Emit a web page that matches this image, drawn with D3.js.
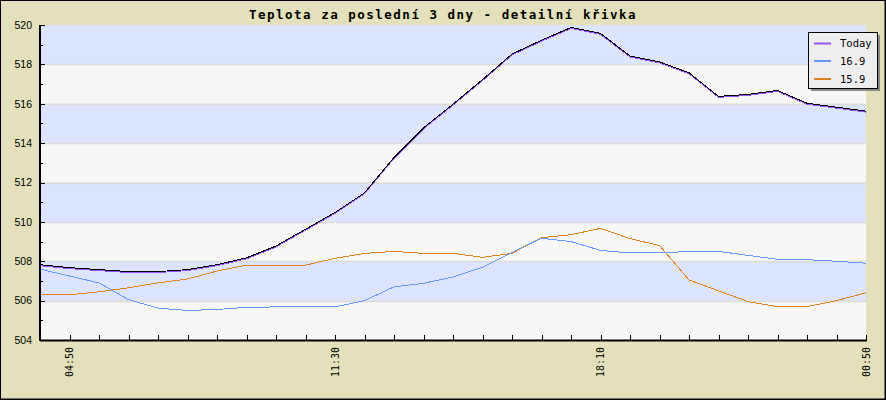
<!DOCTYPE html>
<html>
<head>
<meta charset="utf-8">
<script src="https://cdn.jsdelivr.net/npm/d3@7"></script>
<style>
  html, body { margin: 0; padding: 0; background: #fff; }
  svg { display: block; }
</style>
</head>
<body>
<svg id="chart" width="886" height="400"></svg>
<script>
// ---- data ----
const title = "Teplota za poslední 3 dny - detailní křivka";
const times = ["04:06","04:50","05:34","06:19","07:03","07:48","08:32","09:17","10:01","10:46",
               "11:30","12:14","12:59","13:43","14:28","15:12","15:57","16:41","17:26","18:10",
               "18:54","19:39","20:23","21:08","21:52","22:37","23:21","00:06","00:50"];
const labeledTimes = ["04:50","11:30","18:10","00:50"];
const seriesNames = ["Today", "16.9", "15.9"];
const today = [507.8,507.65,507.55,507.45,507.45,507.55,507.8,508.15,508.75,509.6,
               510.45,511.45,513.25,514.75,515.95,517.2,518.5,519.2,519.85,519.55,
               518.4,518.1,517.55,516.35,516.45,516.65,516.0,515.8,515.6];
const day169 = [507.6,507.25,506.9,506.05,505.62,505.5,505.55,505.66,505.68,505.68,
                505.68,506.0,506.7,506.88,507.2,507.7,508.45,509.17,509.0,508.55,
                508.42,508.42,508.5,508.5,508.3,508.1,508.08,508.0,507.9];
const day159 = [506.3,506.3,506.45,506.65,506.9,507.1,507.5,507.8,507.8,507.8,
                508.15,508.4,508.5,508.4,508.4,508.2,508.4,509.2,509.35,509.67,
                509.15,508.8,507.05,506.5,505.95,505.7,505.7,506.0,506.4];
const yTicks = [504,506,508,510,512,514,516,518,520];

// ---- layout ----
const W = 886, H = 400;
const plot = {left: 40, right: 866, top: 25, bottom: 340};
const colors = {Today: "#9955ff", "16.9": "#6699ff", "15.9": "#dd8122"};

const svg = d3.select("#chart");

// background
svg.append("rect").attr("x",0).attr("y",0).attr("width",W).attr("height",H).attr("fill","#e3e0bb");
svg.append("rect").attr("x",0.5).attr("y",0.5).attr("width",W-1.5).attr("height",H-1.5)
   .attr("fill","none").attr("stroke","#000").attr("stroke-width",1);
svg.append("line").attr("x1",0).attr("x2",W).attr("y1",H-0.5).attr("y2",H-0.5).attr("stroke","#000");
svg.append("line").attr("x1",W-0.5).attr("x2",W-0.5).attr("y1",0).attr("y2",H).attr("stroke","#000");

const x = d3.scalePoint().domain(times).range([plot.left, plot.right]);
const y = d3.scaleLinear().domain([504, 520]).range([plot.bottom, plot.top]);

// bands
const bands = d3.pairs(yTicks);
svg.append("g").selectAll("rect").data(bands).join("rect")
  .attr("x", plot.left).attr("width", plot.right - plot.left)
  .attr("y", d => y(d[1])).attr("height", d => y(d[0]) - y(d[1]))
  .attr("fill", (d,i) => i % 2 === 0 ? "#f7f7f7" : "#dde4ff");
// grid lines
svg.append("g").selectAll("line").data(yTicks.slice(1, -1)).join("line")
  .attr("x1", plot.left).attr("x2", plot.right)
  .attr("y1", d => Math.round(y(d)) + 0.5).attr("y2", d => Math.round(y(d)) + 0.5)
  .attr("stroke", "#dcdcdc").attr("stroke-width", 1.5);

// title
svg.append("text").attr("x", 443).attr("y", 18.5)
  .attr("text-anchor", "middle")
  .attr("font-family", "DejaVu Sans Mono").attr("font-weight", "bold")
  .attr("font-size", 12.5).attr("letter-spacing", 1.5)
  .attr("fill", "#000").text(title);

// lines
const line = d3.line().x((d,i) => x(times[i])).y(d => y(d));
const gLines = svg.append("g").attr("shape-rendering", "crispEdges").attr("fill","none");
gLines.append("path").datum(day159).attr("d", line).attr("stroke", colors["15.9"]).attr("stroke-width", 1);
gLines.append("path").datum(day169).attr("d", line).attr("stroke", colors["16.9"]).attr("stroke-width", 1);
gLines.append("path").datum(today).attr("d", line).attr("stroke", colors.Today).attr("stroke-width", 1)
  .attr("transform", "translate(0,0.5)");
gLines.append("path").datum(today).attr("d", line).attr("stroke", "#000").attr("stroke-width", 1)
  .attr("transform", "translate(0,-0.5)");

// y axis
const yMinor = d3.range(505, 520, 2);
const gy = svg.append("g");
gy.selectAll("line.maj").data(yTicks).join("line").attr("class","maj")
  .attr("x1", plot.left).attr("x2", plot.left + 5)
  .attr("y1", d => Math.round(y(d)) + 0.5).attr("y2", d => Math.round(y(d)) + 0.5)
  .attr("stroke", "#000");
gy.selectAll("line.min").data(yMinor).join("line").attr("class","min")
  .attr("x1", plot.left).attr("x2", plot.left + 3)
  .attr("y1", d => Math.round(y(d)) + 0.5).attr("y2", d => Math.round(y(d)) + 0.5)
  .attr("stroke", "#000");
gy.append("line").attr("x1", plot.left).attr("x2", plot.left)
  .attr("y1", plot.top).attr("y2", plot.bottom + 1).attr("stroke", "#000").attr("stroke-width", 2);
gy.selectAll("text").data(yTicks).join("text")
  .attr("x", 32).attr("y", d => y(d)).attr("dy", "0.36em")
  .attr("text-anchor", "end").attr("font-family", "Liberation Sans, Arial, sans-serif")
  .attr("font-size", 10.5).attr("fill", "#000").text(d => d);

// x axis
const gx = svg.append("g");
gx.append("line").attr("x1", plot.left).attr("x2", plot.right + 1)
  .attr("y1", plot.bottom + 0.5).attr("y2", plot.bottom + 0.5).attr("stroke", "#000").attr("stroke-width", 2);
gx.selectAll("line.t").data(times).join("line").attr("class","t")
  .attr("x1", d => Math.round(x(d)) + 0.5).attr("x2", d => Math.round(x(d)) + 0.5)
  .attr("y1", plot.bottom).attr("y2", plot.bottom - 5).attr("stroke", "#000");
gx.selectAll("text").data(labeledTimes).join("text")
  .attr("transform", d => `translate(${x(d)},347) rotate(-90)`)
  .attr("dy", "0.35em").attr("text-anchor", "end")
  .attr("font-family", "DejaVu Sans Mono").attr("font-size", 10)
  .attr("fill", "#000").text(d => d);

// legend
const lg = svg.append("g");
lg.append("rect").attr("x", 811).attr("y", 35).attr("width", 69).attr("height", 56).attr("fill", "#8a8a8a");
lg.append("rect").attr("x", 808.5).attr("y", 32.5).attr("width", 69).attr("height", 56)
  .attr("fill", "#eeeeee").attr("stroke", "#000");
const rowY = [43.5, 61, 79];
seriesNames.forEach((n, i) => {
  lg.append("line").attr("x1", 814).attr("x2", 831).attr("y1", rowY[i]).attr("y2", rowY[i])
    .attr("stroke", colors[n]).attr("stroke-width", 2);
  lg.append("text").attr("x", 840).attr("y", rowY[i]).attr("dy", "0.36em")
    .attr("font-family", "DejaVu Sans Mono").attr("font-size", 10.5)
    .attr("fill", "#000").text(n);
});
</script>
</body>
</html>
